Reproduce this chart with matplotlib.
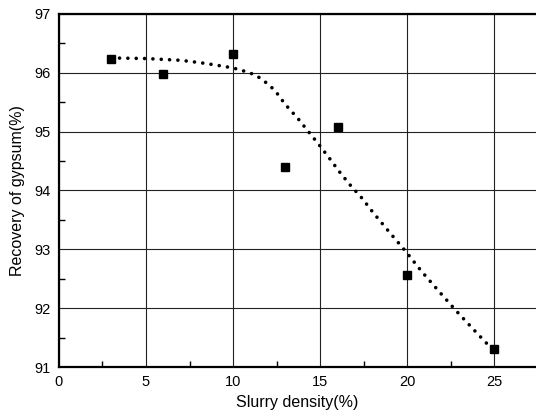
import matplotlib
matplotlib.use("Agg")
import matplotlib.pyplot as plt
from matplotlib.ticker import MultipleLocator

plt.rcParams["font.family"] = ["Liberation Sans", "DejaVu Sans"]

# measured points
density = [3, 6, 10, 13, 16, 20, 25]
recovery = [96.24, 95.98, 96.31, 94.40, 95.08, 92.57, 91.30]

# fitted trend (dotted curve)
fit_x = [3.0, 5.0, 7.0, 8.1, 9.0, 10.0, 10.6, 11.3, 11.9, 12.4, 13.0, 13.7,
         14.3, 14.9, 15.5, 16.1, 16.7, 17.4, 18.0, 18.95, 19.9, 20.84,
         21.84, 22.86, 23.93, 24.7, 25.0]
fit_y = [96.25, 96.24, 96.21, 96.17, 96.13, 96.08, 96.03, 95.96, 95.83,
         95.70, 95.46, 95.23, 95.01, 94.79, 94.56, 94.32, 94.10, 93.87,
         93.64, 93.30, 92.97, 92.62, 92.28, 91.94, 91.60, 91.36, 91.28]

fig = plt.figure(figsize=(5.36, 4.18), dpi=100)
ax = fig.add_axes([0.110, 0.122, 0.89, 0.845])

ax.plot(fit_x, fit_y, color="black", lw=2.6, linestyle=(0, (0.01, 2.3)),
        dash_capstyle="round", zorder=3)
ax.plot(density, recovery, linestyle="none", marker="s", ms=5.8,
        color="black", zorder=4)

ax.set_xlim(0, 27.4)
ax.set_ylim(91, 97)
ax.xaxis.set_major_locator(MultipleLocator(5))
ax.xaxis.set_minor_locator(MultipleLocator(2.5))
ax.yaxis.set_major_locator(MultipleLocator(1))
ax.yaxis.set_minor_locator(MultipleLocator(0.5))
ax.grid(True, which="major", color="#222222", lw=0.8)

ax.tick_params(which="both", direction="in", top=False, right=False,
               labelsize=10.5, width=1.0)
ax.tick_params(which="major", length=0, pad=6)
ax.tick_params(which="minor", length=4)

for side in ["left", "bottom", "top"]:
    ax.spines[side].set_linewidth(1.6)
ax.spines["right"].set_visible(False)

ax.set_xlabel("Slurry density(%)", fontsize=11.5, labelpad=4)
ax.set_ylabel("Recovery of gypsum(%)", fontsize=11.5, labelpad=7)

fig.savefig("out.png", dpi=100)
